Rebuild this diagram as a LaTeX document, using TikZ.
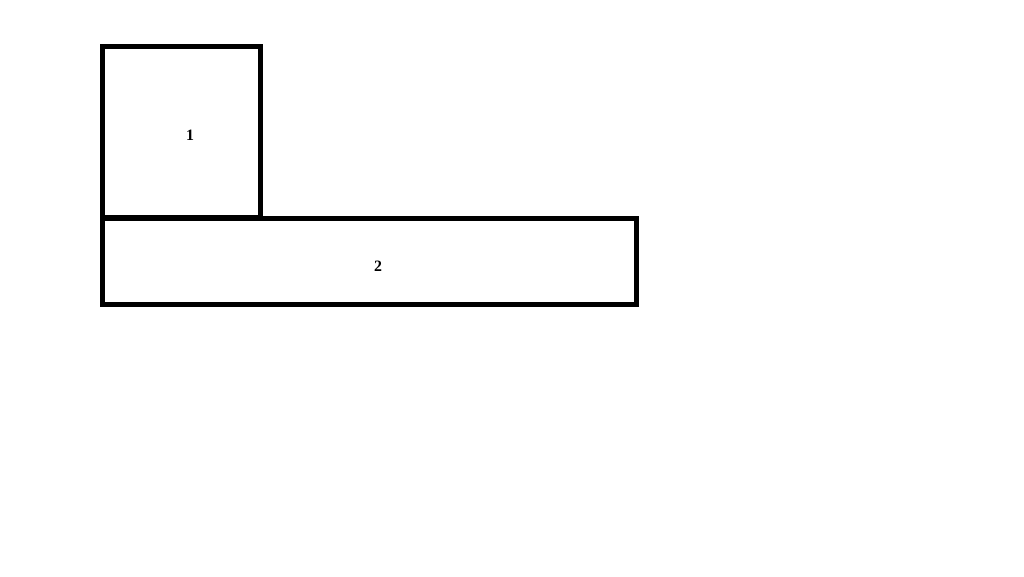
\documentclass[tikz,border=0pt]{standalone}
\usepackage{fontspec}
\setmainfont{Liberation Serif}
\begin{document}
\begin{tikzpicture}[x=0.02cm,y=-0.02cm,
  boxstyle/.style={draw=black,line width=0.1cm,rectangle,inner sep=0pt,outer sep=0pt,anchor=north west},
  labelstyle/.style={font=\bfseries\fontsize{9}{10}\selectfont,inner sep=0pt}]
\useasboundingbox[fill=white] (0,0) rectangle (1024,576);
\node[boxstyle,minimum width=158*0.02cm,minimum height=170.5*0.02cm] (b1) at (102.5,46.5) {};
\node[boxstyle,minimum width=534*0.02cm,minimum height=86*0.02cm] (b2) at (102.5,218) {};
\node[labelstyle] (t1) at (190,135) {1};
\node[labelstyle] (t2) at (378,266) {2};
\end{tikzpicture}
\end{document}
